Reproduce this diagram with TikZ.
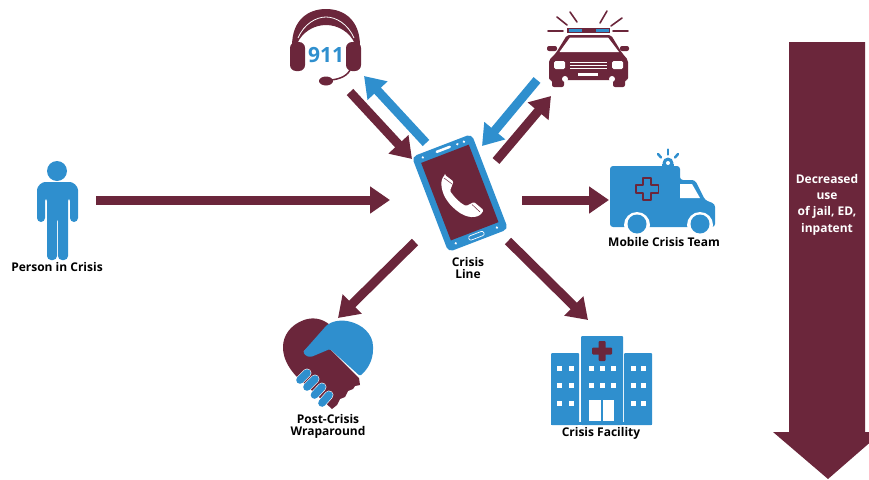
\documentclass[tikz,border=0pt]{standalone}
\usepackage{fontspec}
\setmainfont{Open Sans}
\usetikzlibrary{arrows.meta}
\definecolor{crisismaroon}{HTML}{6B263B}
\definecolor{crisisblue}{HTML}{2F8FCE}
\tikzset{
  flow/.style={line width=9pt,-{Triangle[length=20pt,width=26pt]}},
  maroonflow/.style={flow,draw=crisismaroon},
  blueflow/.style={flow,draw=crisisblue},
  caption/.style={font=\fontsize{12}{12.6}\selectfont\bfseries,align=center,text=black,inner sep=0pt},
  ray/.style={line width=1.6pt,line cap=round},
  finger/.style={line width=7.6pt,line cap=round,draw=crisisblue}
}
\begin{document}
\begin{tikzpicture}[x=1pt,y=-1pt]
\useasboundingbox (0,0) rectangle (869,479);
\clip (0,0) rectangle (869,479);

% person
\fill[crisisblue] (57,171) circle (10);
\fill[crisisblue,rounded corners=4] (37,222) -- (37,194) .. controls (37,186) and (42,182) .. (49,182)
  -- (66,182) .. controls (73,182) and (78,186) .. (78,194) -- (78,222) -- (70,222) -- (70,197) -- (68,197)
  -- (68,260) -- (58,260) -- (58,217) -- (57,217) -- (57,260) -- (47,260) -- (47,197) -- (45,197) -- (45,222) -- cycle;
\node[caption] (person) at (57,267) {Person in Crisis};

% headset
\fill[crisismaroon] (292,46) .. controls (292,20) and (308,9) .. (326,9) .. controls (344,9) and (360,20) .. (360,46)
  -- (355,44) .. controls (350,32) and (338,25) .. (326,25) .. controls (314,25) and (302,32) .. (297,44) -- cycle;
\draw[white,line width=.8pt] (298,38) .. controls (304,24) and (316,17) .. (326,17) .. controls (336,17) and (348,24) .. (354,38);
\fill[crisismaroon,rounded corners=6] (290,42) rectangle (305,71);
\fill[crisismaroon,rounded corners=6] (346,42) rectangle (361,71);
\draw[crisismaroon,line width=1.5pt] (351,68) .. controls (348,76) and (340,79) .. (331,80);
\fill[crisismaroon] (326,81) ellipse (7 and 4.5);
\node[font=\fontsize{21}{21}\selectfont\bfseries,text=crisisblue,inner sep=0pt] (operator) at (326,55) {911};

% police car
\fill[crisismaroon] (567,28) rectangle (610,33);
\fill[crisisblue] (568.5,29) rectangle (582,32);
\fill[crisisblue] (596,29) rectangle (609,32);
\foreach \xa/\ya/\xb/\yb in {548/31/563/31,557/17/567/25,570/12/577/22,607/11/600/23,622/18/611/26,613/31/628/31}
  \draw[ray,crisismaroon] (\xa,\ya) -- (\xb,\yb);
\fill[crisismaroon,rounded corners=2] (556,53) -- (567,35) -- (611,35) -- (622,53) -- (628,60) -- (628,80) -- (625,80) -- (625,87) -- (613,87) -- (613,80)
  -- (564,80) -- (564,87) -- (552,87) -- (552,80) -- (549,80) -- (549,60) -- cycle;
\fill[white] (559.5,52) -- (570,37.5) -- (608,37.5) -- (619,52) -- cycle;
\fill[crisismaroon,rounded corners=2] (547,46) rectangle (557,51);
\fill[crisismaroon,rounded corners=2] (620,46) rectangle (629,51);
\fill[white,rounded corners=1.5] (554,61) rectangle (565,69);
\fill[white,rounded corners=1.5] (612,61) rectangle (623,69);
\fill[white] (570,62) rectangle (607,63);
\fill[white] (570,65) rectangle (607,66);
\fill[white] (570,68) rectangle (607,69);
\fill[white] (578,73) rectangle (598,75.5);
\fill[white] (565,79) circle (3);
\fill[white] (612,79) circle (3);

% phone
\begin{scope}[shift={(460,193)},rotate=21]
\fill[crisisblue,rounded corners=5] (-32,-51) rectangle (32,51);
\fill[crisismaroon] (-25.5,-42) rectangle (25.5,41);
\fill[white] (-22,-46.5) circle (1.3);
\fill[white] (15,-46.5) circle (1.3);
\fill[white] (22,-46.5) circle (1.3);
\fill[white,rounded corners=1] (-8,-48) rectangle (8,-45.5);
\draw[white,line width=.7pt,rounded corners=2] (-8,43.5) rectangle (8,48);
\fill[white] (-22,45.5) circle (1.3);
\fill[white] (22,45.5) circle (1.3);
\end{scope}
\fill[white,rounded corners=1.2] (445,175) -- (453.5,181.5) -- (450,191) .. controls (455,198) and (460,203) .. (466,206) -- (474,202)
  -- (483.5,210) .. controls (480,218) and (470,219) .. (460,213) .. controls (450,206) and (443,197) .. (441.5,186) .. controls (441,180) and (443,177) .. (445,175) -- cycle;
\draw[crisismaroon,line width=.5pt] (444,178) -- (452,184);
\draw[crisismaroon,line width=.5pt] (472,204.5) -- (480,212);
\node[caption] (phone) at (468,268) {Crisis\\Line};

% ambulance
\fill[crisisblue,rounded corners=3] (610,227) -- (610,166) -- (680,166) -- (680,180) -- (695,180) -- (705,200) -- (715,204) -- (715,227) -- cycle;
\fill[white] (680,184) -- (692,184) -- (700,198) -- (680,198) -- cycle;
\fill[white] (637,225) circle (13);
\fill[white] (700,225) circle (13);
\fill[white] (610,228) rectangle (720,240);
\fill[crisisblue] (637,224) circle (9.5);
\fill[crisisblue] (700,224) circle (9.5);
\draw[crisismaroon,line width=1.2pt,line join=round] (643,178) -- (651,178) -- (651,185) -- (658.5,185) -- (658.5,193) -- (651,193) -- (651,200) -- (643,200)
  -- (643,193) -- (636,193) -- (636,185) -- (643,185) -- cycle;
\fill[crisisblue] (668,163) circle (5.5);
\fill[crisisblue] (662,164) rectangle (674,167);
\fill[white] (668,163) circle (2);
\draw[ray,crisisblue,line width=2.5pt] (668,149.5) -- (668,154.5);
\draw[ray,crisisblue,line width=2.5pt] (658,154) -- (661,157.5);
\draw[ray,crisisblue,line width=2.5pt] (678,154) -- (675,157.5);
\node[caption] (team) at (664,242) {Mobile Crisis Team};

% handshake
\fill[crisismaroon] (330,325) .. controls (322,318) and (312,317) .. (304,320) .. controls (290,325) and (283,336) .. (283,347)
  .. controls (283,358) and (288,367) .. (296,376) -- (332,409) -- (337,405) -- (340,399) -- (345,397) -- (348,391) -- (353,389)
  -- (355,386) -- (360,385) -- (359,378) -- (330,349) -- (303,352) -- cycle;
\fill[crisisblue,rounded corners=1.5] (303,352) -- (326,326) .. controls (332,321) and (340,320) .. (347,321) .. controls (362,324) and (373,334) .. (373,348)
  .. controls (373,360) and (368,369) .. (360,376) -- (330,349) -- (311,357) -- (306,356) -- cycle;
\foreach \xa/\ya/\xb/\yb in {300/380/307/373,307/387/315/379,314.5/395/322/387,322/403/329/395}{
  \draw[line width=8.8pt,line cap=round,white] (\xa,\ya) -- (\xb,\yb);
  \draw[finger] (\xa,\ya) -- (\xb,\yb);
}
\node[caption] (wrap) at (328,426.5) {Post-Crisis\\Wraparound};

% facility
\fill[crisisblue,rounded corners=1] (581,425) -- (581,336) -- (623,336) -- (623,425) -- cycle;
\fill[crisisblue,rounded corners=1] (551,425) -- (551,353) -- (579,353) -- (579,425) -- cycle;
\fill[crisisblue,rounded corners=1] (624,425) -- (624,353) -- (652,353) -- (652,425) -- cycle;
\fill[crisisblue] (551,422) rectangle (652,425);
\fill[crisismaroon,rounded corners=1] (598.5,341) rectangle (605.5,361);
\fill[crisismaroon,rounded corners=1] (592,347.5) rectangle (612,354.5);
\foreach \xpos in {559,571,591,602,613,633,643}
  \foreach \ypos in {368,385}
    \fill[white] (\xpos-2.5,\ypos-2.5) rectangle (\xpos+2.5,\ypos+2.5);
\foreach \xpos in {559,571,633,643}
  \fill[white] (\xpos-2.5,400.5) rectangle (\xpos+2.5,405.5);
\fill[white] (589,400) rectangle (600.5,421);
\fill[white] (603,400) rectangle (614,421);
\node[caption] (facility) at (601,433) {Crisis Facility};

% decreased use arrow
\fill[crisismaroon] (789,42) -- (865,42) -- (865,432) -- (882,432) -- (828,479) -- (773,432) -- (789,432) -- cycle;
\node[caption,text=white,font=\fontsize{12}{16.4}\selectfont\bfseries] (decrease) at (827,204.5) {Decreased\\use\\of jail, ED,\\inpatent};

% connectors
\coordinate (personout) at (96,200);
\coordinate (phonein) at (390,200);
\coordinate (headsetout) at (350,92);
\coordinate (headsetin) at (364,76);
\coordinate (phonea) at (412,159);
\coordinate (phoneb) at (426,143);
\coordinate (carout) at (537,80);
\coordinate (carin) at (551,96);
\coordinate (phonec) at (482,146);
\coordinate (phoned) at (496,161);
\coordinate (phonee) at (522,200);
\coordinate (teamin) at (609,200);
\coordinate (phonef) at (415,242);
\coordinate (wrapin) at (338,318);
\coordinate (phoneg) at (508,241);
\coordinate (facilityin) at (588,320);
\draw[maroonflow] (personout) -- (phonein);
\draw[maroonflow] (headsetout) -- (phonea);
\draw[blueflow] (phoneb) -- (headsetin);
\draw[blueflow] (carout) -- (phonec);
\draw[maroonflow] (phoned) -- (carin);
\draw[maroonflow] (phonee) -- (teamin);
\draw[maroonflow] (phonef) -- (wrapin);
\draw[maroonflow] (phoneg) -- (facilityin);
\end{tikzpicture}
\end{document}
